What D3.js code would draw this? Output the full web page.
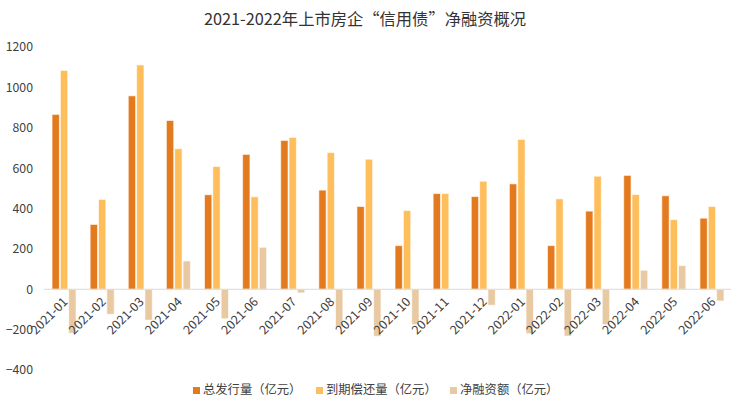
<!DOCTYPE html>
<html>
<head>
<meta charset="utf-8">
<script src="https://cdn.jsdelivr.net/npm/d3@7"></script>
<style>
html,body{margin:0;padding:0;background:#fff;}
svg{display:block;font-family:"Noto Sans CJK SC","Noto Sans",sans-serif;}
</style>
</head>
<body>
<svg id="chart" width="740" height="407"></svg>
<script>
const categories = ["2021-01","2021-02","2021-03","2021-04","2021-05","2021-06","2021-07","2021-08","2021-09","2021-10","2021-11","2021-12","2022-01","2022-02","2022-03","2022-04","2022-05","2022-06"];
const issuance  = [866, 321, 958, 836, 468, 668, 737, 491, 410, 216, 474, 459, 522, 216, 387, 564, 463, 352];
const repayment = [1084, 445, 1111, 696, 608, 458, 752, 677, 644, 390, 474, 535, 742, 448, 560, 469, 345, 410];
const netFinancing = [-218, -124, -153, 140, -146, 208, -18, -187, -233, -175, 0, -79, -220, -232, -175, 94, 117, -58];
const seriesNames = ["总发行量（亿元）","到期偿还量（亿元）","净融资额（亿元）"];
const seriesColors = ["#E47A1E","#FFBE5C","#E8C9A2"];
const yTicks = [-400,-200,0,200,400,600,800,1000,1200];
const title = "2021-2022年上市房企“信用债”净融资概况";

const svg = d3.select("#chart");

const y = d3.scaleLinear().domain([-400,1200]).range([370,47]);
const x0 = d3.scaleBand().domain(categories).range([45,731]).paddingInner(0.37).paddingOuter(0.185);
const x1 = d3.scaleBand().domain([0,1,2]).range([0,x0.bandwidth()]).paddingInner(0.12);

const series = [issuance, repayment, netFinancing];

// title
svg.append("text").attr("x",365).attr("y",25).attr("text-anchor","middle")
  .attr("font-size",16.3).attr("fill","#333").text(title);

// y axis labels
const yAxis = d3.axisLeft(y).tickValues(yTicks).tickSize(0).tickPadding(0).tickFormat(d3.format("d"));
const gy = svg.append("g").attr("transform","translate(33,0)").call(yAxis);
gy.select(".domain").remove();
gy.selectAll("text").attr("font-size",12.3).attr("fill","#404040").attr("font-family","\"Noto Sans CJK SC\",\"Noto Sans\",sans-serif");

// bars
categories.forEach((c,i)=>{
  series.forEach((s,k)=>{
    const v = s[i];
    if (v === 0) return;
    svg.append("rect")
      .attr("x", x0(c)+x1(k))
      .attr("width", x1.bandwidth())
      .attr("y", y(Math.max(0,v)))
      .attr("height", Math.abs(y(v)-y(0)))
      .attr("fill", seriesColors[k])
      .attr("stroke","#fff").attr("stroke-opacity",0.6).attr("stroke-width",1);
  });
});

// zero line
svg.append("line").attr("x1",44).attr("x2",731).attr("y1",y(0)).attr("y2",y(0))
  .attr("stroke","#d9d9d9").attr("stroke-width",1);

// x axis labels
const xAxis = d3.axisBottom(x0).tickSize(0).tickPadding(0);
const gx = svg.append("g").attr("transform",`translate(0,${y(0)})`).call(xAxis);
gx.select(".domain").remove();
gx.selectAll("text")
  .attr("font-size",12.5).attr("fill","#404040")
  .attr("font-family","\"Noto Sans CJK SC\",\"Noto Sans\",sans-serif")
  .attr("text-anchor","end").attr("dy",0).attr("y",0)
  .attr("transform","translate(2,11) rotate(-45)")
  .attr("dominant-baseline","middle");

// legend
const legendX = [193, 316, 450];
const lg = svg.append("g");
seriesNames.forEach((n,k)=>{
  lg.append("rect").attr("x",legendX[k]).attr("y",387).attr("width",7).attr("height",7).attr("fill",seriesColors[k]);
  lg.append("text").attr("x",legendX[k]+10).attr("y",391).attr("dominant-baseline","middle")
    .attr("font-size",12.3).attr("fill","#404040").text(n);
});
</script>
</body>
</html>
